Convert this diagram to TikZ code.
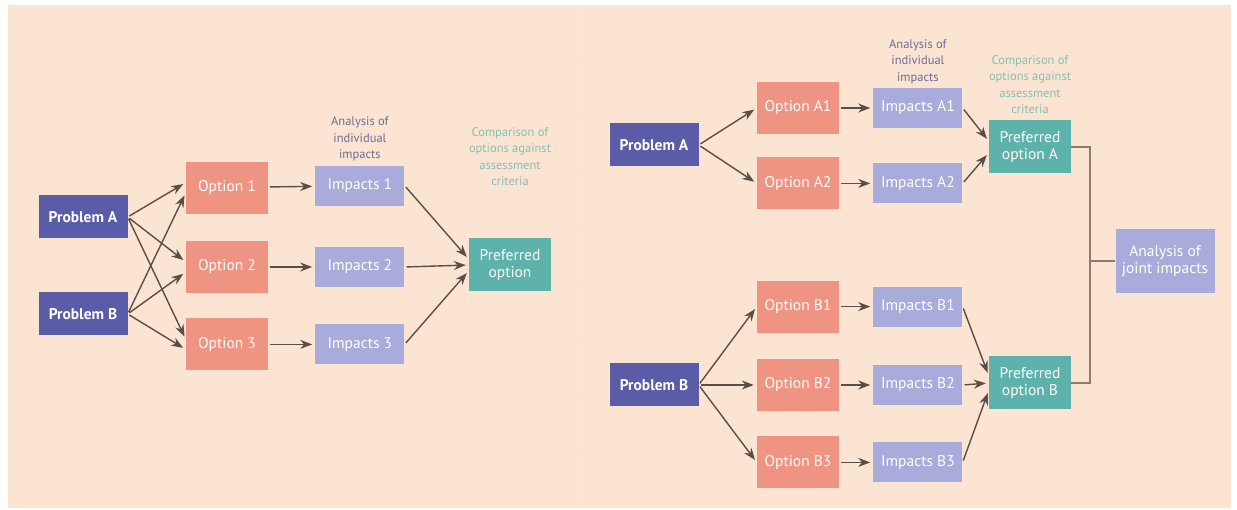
\documentclass[tikz,border=0pt]{standalone}
\usepackage{fontspec}
\setmainfont{PT Sans}
\usepackage{xcolor}
\usepackage{tikz}
\usetikzlibrary{arrows.meta, positioning, calc}
\definecolor{bgPeach}{HTML}{FCE4D2}
\definecolor{probBlue}{HTML}{5A5CA8}
\definecolor{optSalmon}{HTML}{EF9482}
\definecolor{impLilac}{HTML}{A9ACDB}
\definecolor{prefTeal}{HTML}{5EB2AC}
\definecolor{lblPurple}{HTML}{6E6C94}
\definecolor{lblTeal}{HTML}{88BDB2}
\definecolor{arrowGray}{HTML}{5A4F47}
\definecolor{bracketBrown}{HTML}{8E7B70}

\begin{document}
\begin{tikzpicture}[
    x=1pt, y=-1pt,
    every node/.style={font=\fontsize{15.5}{17.5}\selectfont},
    box/.style={
        rectangle, draw=none, text=white,
        align=center, inner sep=0pt
    },
    probbox/.style={box, fill=probBlue, font=\fontsize{15.5}{17.5}\selectfont\bfseries,
        minimum width=89pt, minimum height=43pt},
    optbox/.style={box, fill=optSalmon, minimum width=82pt, minimum height=52pt},
    impbox/.style={box, fill=impLilac, minimum width=89pt, minimum height=40pt},
    prefbox/.style={box, fill=prefTeal, minimum width=82pt, minimum height=53pt},
    jointbox/.style={box, fill=impLilac, minimum width=99pt, minimum height=64pt},
    headnote/.style={align=center, inner sep=0pt, font=\fontsize{12.5}{16.5}\selectfont},
    arrow/.style={-{Stealth[length=12pt, width=9pt]}, line width=1.4pt, draw=arrowGray,
        shorten >=3pt, shorten <=2pt}
]

% page and panels
\useasboundingbox (0,0) rectangle (1237,510);
\fill[white] (0,0) rectangle (1237,510);
\fill[bgPeach] (8,5) rectangle (1231,508);
\draw[white!45!bgPeach, dotted, line width=0.8pt] (581.5,5) -- (581.5,508);

% ---- left panel: joint assessment ----
\node[probbox] (pa) at (83,217) {Problem A};
\node[probbox] (pb) at (83,314) {Problem B};

\node[optbox] (opt2) at (227,267) {Option 2};
\node[optbox, above=27pt of opt2] (opt1) {Option 1};
\node[optbox, below=25pt of opt2] (opt3) {Option 3};

\node[impbox, right=47pt of opt1, yshift=2pt] (imp1) {Impacts 1};
\node[impbox, right=47pt of opt2] (imp2) {Impacts 2};
\node[impbox, right=47pt of opt3] (imp3) {Impacts 3};

\node[prefbox] (pref) at (510,265) {Preferred\\option};

\node[headnote, text=lblPurple, above=4pt of imp1] (anl) {Analysis of\\individual\\impacts};
\node[headnote, text=lblTeal, above=52pt of pref] (cmp) {Comparison of\\options against\\assessment\\criteria};

\foreach \o in {opt1,opt2,opt3} {
    \draw[arrow] (pa.east) -- (\o.173);
    \draw[arrow] (pb.east) -- (\o.187);
}
\draw[arrow] (opt1) -- (imp1);
\draw[arrow] (opt2) -- (imp2);
\draw[arrow] (opt3) -- (imp3);
\draw[arrow] (imp1.east) -- (pref.172);
\draw[arrow] (imp2.east) -- (pref.west);
\draw[arrow] (imp3.east) -- (pref.188);

% ---- right panel: separate assessment ----
\node[probbox] (rpa) at (654,145) {Problem A};
\node[probbox] (rpb) at (654,385) {Problem B};

\node[optbox] (oa1) at (798,108) {Option A1};
\node[optbox, below=23pt of oa1] (oa2) {Option A2};
\node[optbox] (ob2) at (798,385) {Option B2};
\node[optbox, above=26pt of ob2] (ob1) {Option B1};
\node[optbox, below=25pt of ob2] (ob3) {Option B3};

\node[impbox, right=34pt of oa1] (ia1) {Impacts A1};
\node[impbox, right=34pt of oa2] (ia2) {Impacts A2};
\node[impbox, right=34pt of ob1] (ib1) {Impacts B1};
\node[impbox, right=34pt of ob2] (ib2) {Impacts B2};
\node[impbox, right=34pt of ob3] (ib3) {Impacts B3};

\node[prefbox] (prefa) at (1030,147) {Preferred\\option A};
\node[prefbox] (prefb) at (1030,383) {Preferred\\option B};
\node[jointbox] (joint) at (1165,261) {Analysis of\\joint impacts};

\node[headnote, text=lblPurple, above=4pt of ia1] (ranl) {Analysis of\\individual\\impacts};
\node[headnote, text=lblTeal, above=6pt of prefa] (rcmp) {Comparison of\\options against\\assessment\\criteria};

\foreach \o in {oa1,oa2}
    \draw[arrow] (rpa.east) -- (\o.west);
\foreach \o in {ob1,ob2,ob3}
    \draw[arrow] (rpb.east) -- (\o.west);
\foreach \o/\i in {oa1/ia1,oa2/ia2,ob1/ib1,ob2/ib2,ob3/ib3}
    \draw[arrow] (\o) -- (\i);
\draw[arrow] (ia1.east) -- (prefa.172);
\draw[arrow] (ia2.east) -- (prefa.188);
\draw[arrow] (ib1.east) -- (prefb.170);
\draw[arrow] (ib2.east) -- (prefb.west);
\draw[arrow] (ib3.east) -- (prefb.190);

% bracket to joint analysis
\coordinate (brk) at ($(prefa.east)+(19,0)$);
\draw[bracketBrown, line width=1.6pt] (prefa.east) -- (brk) |- (prefb.east);
\draw[bracketBrown, line width=1.6pt] (brk |- joint.west) -- (joint.west);

\end{tikzpicture}
\end{document}
